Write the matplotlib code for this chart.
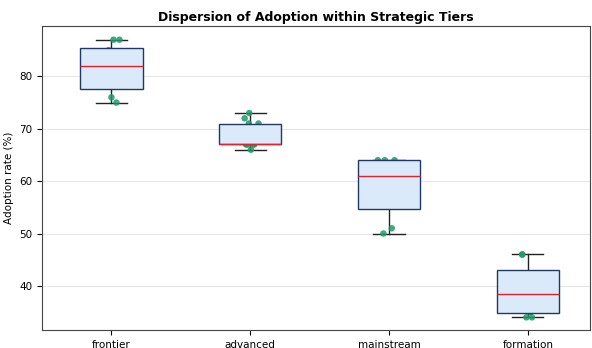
import numpy as np
import matplotlib
matplotlib.use("Agg")
import matplotlib.pyplot as plt

# Adoption rate samples per strategic tier
tiers = ["frontier", "advanced", "mainstream", "formation"]
frontier = [75, 76, 78, 80, 84, 85, 87, 87]
advanced = [66, 67, 67, 67, 67, 71, 71, 72, 73]
mainstream = [50, 51, 56, 60, 62, 64, 64, 64]
formation = [34, 34, 35, 37, 40, 42, 46, 46]

# fixed horizontal jitter for the strip points
jitter = [
    [0.036, 0.0, 0.02, -0.03, 0.01, -0.02, 0.015, 0.058],
    [0.005, -0.02, -0.03, 0.02, 0.03, 0.06, -0.01, -0.04, -0.007],
    [-0.04, 0.02, 0.01, -0.02, 0.03, -0.08, -0.03, 0.04],
    [0.03, -0.01, 0.02, -0.03, 0.01, 0.02, -0.04, -0.04],
]

data = [frontier, advanced, mainstream, formation]
positions = np.arange(len(tiers))

fig, ax = plt.subplots(figsize=(5.92, 3.48), dpi=100)
fig.subplots_adjust(left=0.071, right=0.997, top=0.925, bottom=0.052)

bp = ax.boxplot(
    data,
    positions=positions,
    widths=0.45,
    patch_artist=True,
    boxprops=dict(facecolor="#dbeafa", edgecolor="#1f3864", linewidth=1.0),
    medianprops=dict(color="#e8202a", linewidth=1.0),
    whiskerprops=dict(color="#222222", linewidth=1.0),
    capprops=dict(color="#222222", linewidth=1.0),
    showfliers=False,
)
for b in bp["boxes"]:
    b.set_zorder(4)
for m in bp["medians"]:
    m.set_zorder(5)

for i, vals in enumerate(data):
    xs = positions[i] + np.array(jitter[i])
    ax.scatter(xs, vals, s=22, color="#1f9a6a", alpha=0.85, zorder=3,
               edgecolors="none")

ax.set_xticks(positions)
ax.set_xticklabels(tiers, fontsize=7.5)
ax.tick_params(axis="y", labelsize=7.5)
ax.set_xlim(-0.5, 3.45)
ax.set_ylim(31.6, 89.6)
ax.set_yticks([40, 50, 60, 70, 80])
ax.set_ylabel("Adoption rate (%)", fontsize=7.5)
ax.set_title("Dispersion of Adoption within Strategic Tiers", fontsize=9,
             fontweight="bold", pad=4)
ax.yaxis.grid(True, color="#e6e6e6", linewidth=0.8, zorder=0)
ax.set_axisbelow(True)
for s in ax.spines.values():
    s.set_color("#444444")
    s.set_linewidth(0.8)

fig.savefig("out.png", dpi=100)
